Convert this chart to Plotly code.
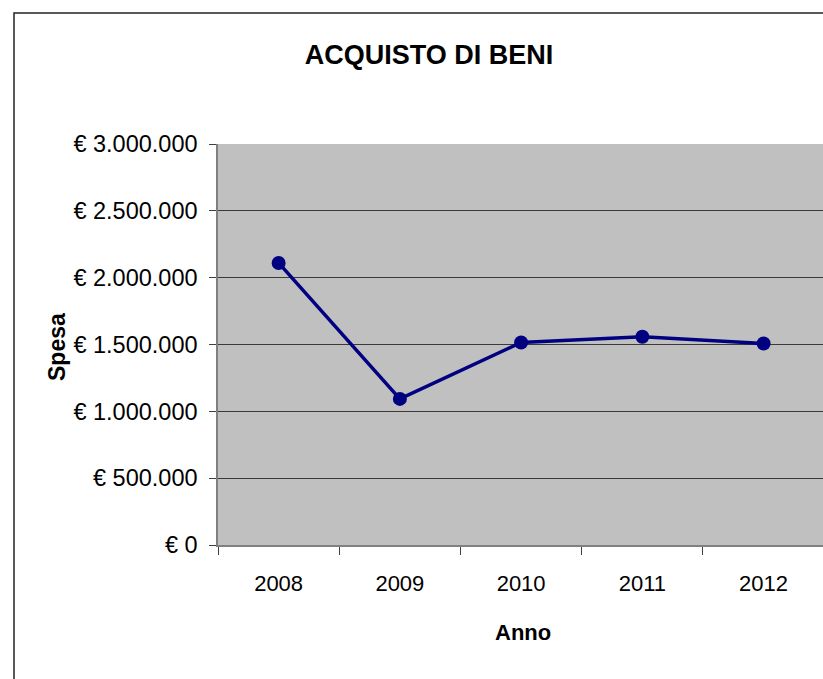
import plotly.graph_objects as go

years = ["2008", "2009", "2010", "2011", "2012"]
spesa = [2110000, 1093000, 1515000, 1558000, 1508000]
y_tick_vals = [0, 500000, 1000000, 1500000, 2000000, 2500000, 3000000]
y_tick_text = ["€ 0", "€ 500.000", "€ 1.000.000", "€ 1.500.000", "€ 2.000.000", "€ 2.500.000", "€ 3.000.000"]

W, H = 823, 679
L, R, T, B = 218, 0, 144, 679 - 545
pw = W - L - R
ph = H - T - B

def px_x(x):
    return (x - L) / pw

def px_y(y):
    return (H - B - y) / ph

FONT = "Liberation Sans, Arial, sans-serif"

fig = go.Figure()
fig.add_trace(go.Scatter(
    x=years, y=spesa, mode="lines+markers",
    line=dict(color="#000080", width=3.5),
    marker=dict(color="#000080", size=14),
    showlegend=False,
))

fig.update_layout(
    width=W, height=H,
    margin=dict(l=L, r=R, t=T, b=B, pad=0),
    paper_bgcolor="white",
    plot_bgcolor="#C0C0C0",
    font=dict(family=FONT, color="black", size=22),
    title=dict(text="<b>ACQUISTO DI BENI</b>", x=429 / W, xanchor="center",
               y=1 - 55 / H, yanchor="middle", xref="container", yref="container",
               font=dict(family=FONT, size=27, color="black")),
    xaxis=dict(
        type="category", range=[-0.5, 4.49],
        tickson="boundaries", ticks="outside", ticklen=8, tickcolor="#404040",
        showline=True, linecolor="#808080", linewidth=1.5,
        showgrid=False, zeroline=False,
        tickfont=dict(family=FONT, size=22, color="black"),
        ticklabelstandoff=18,
    ),
    yaxis=dict(
        range=[0, 3000000],
        tickvals=y_tick_vals, ticktext=y_tick_text,
        ticks="outside", ticklen=7, tickcolor="#404040",
        showline=True, linecolor="#808080", linewidth=1.5,
        showgrid=True, gridcolor="#3a3a3a", gridwidth=1,
        zeroline=False,
        tickfont=dict(family=FONT, size=23.5, color="black"),
        ticklabelstandoff=7,
    ),
    annotations=[
        dict(text="<b>Spesa</b>", xref="paper", yref="paper",
             x=px_x(57), y=px_y(347), textangle=-90, showarrow=False,
             xanchor="center", yanchor="middle",
             font=dict(family=FONT, size=23, color="black")),
        dict(text="<b>Anno</b>", xref="paper", yref="paper",
             x=px_x(523), y=px_y(632), showarrow=False,
             xanchor="center", yanchor="middle",
             font=dict(family=FONT, size=22, color="black")),
    ],
    shapes=[
        dict(type="rect", xref="paper", yref="paper",
             x0=px_x(14), x1=px_x(W + 20), y0=px_y(H + 20), y1=px_y(13),
             line=dict(color="#222", width=1.5), fillcolor="rgba(0,0,0,0)",
             layer="below"),
    ],
)

fig.write_html(
    "out.html",
    config={"displayModeBar": False},
    post_script="document.body.style.margin='0';document.body.style.overflow='hidden';",
)
